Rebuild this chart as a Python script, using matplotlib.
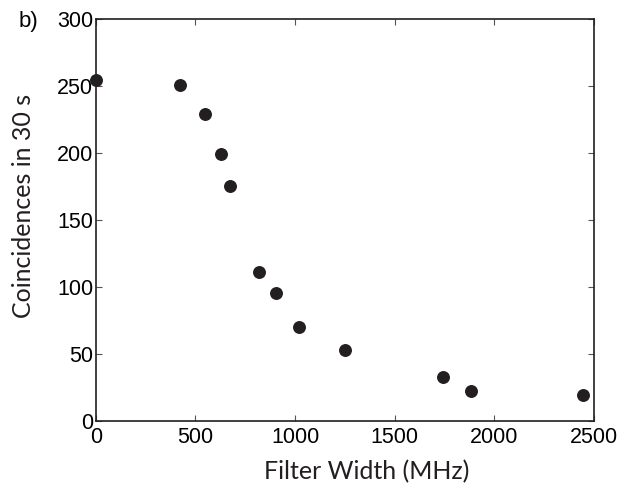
import matplotlib
matplotlib.use("Agg")
import matplotlib.pyplot as plt

filter_width = [0, 422, 550, 627, 673, 818, 904, 1021, 1253, 1743, 1882, 2446]
coincidences = [254.5, 251, 229.5, 199, 175.5, 111.3, 95, 69.9, 52.7, 32.7, 22, 19.1]
x_ticks = [0, 500, 1000, 1500, 2000, 2500]
y_ticks = [0, 50, 100, 150, 200, 250, 300]

fig = plt.figure(figsize=(6.23, 4.93), dpi=100)
ax = fig.add_axes([0.154, 0.147, 0.799, 0.814])
ax.plot(filter_width, coincidences, 'o', color='#231f20', markersize=8.3, clip_on=False, zorder=5)
ax.set_xlim(0, 2500)
ax.set_ylim(0, 300)
ax.set_xticks(x_ticks)
ax.set_yticks(y_ticks)
tick_font = 'Liberation Sans'
for lab in ax.get_xticklabels() + ax.get_yticklabels():
    lab.set_fontfamily(tick_font)
    lab.set_fontsize(15.5)
ax.tick_params(axis='x', pad=5)
ax.tick_params(axis='y', pad=2)
ax.tick_params(direction='in', length=4, width=0.8, top=True, right=True, color='#555555')
for s in ax.spines.values():
    s.set_linewidth(1.2)
    s.set_color('#231f20')
label_font = 'Lato'
ax.set_xlabel('Filter Width (MHz)', fontsize=18, family=label_font, color='#231f20')
ax.set_ylabel('Coincidences in 30 s', fontsize=18, family=label_font, color='#231f20')
ax.xaxis.label.set_va('center')
ax.yaxis.label.set_va('center')
ax.yaxis.label.set_ha('center')
ax.xaxis.set_label_coords(0.544, -0.128)
ax.yaxis.set_label_coords(-0.145, 0.534)
fig.text(0.029, 0.957, 'b)', fontsize=16, family=tick_font, ha='left', va='center')
fig.savefig('out.png', dpi=100)
